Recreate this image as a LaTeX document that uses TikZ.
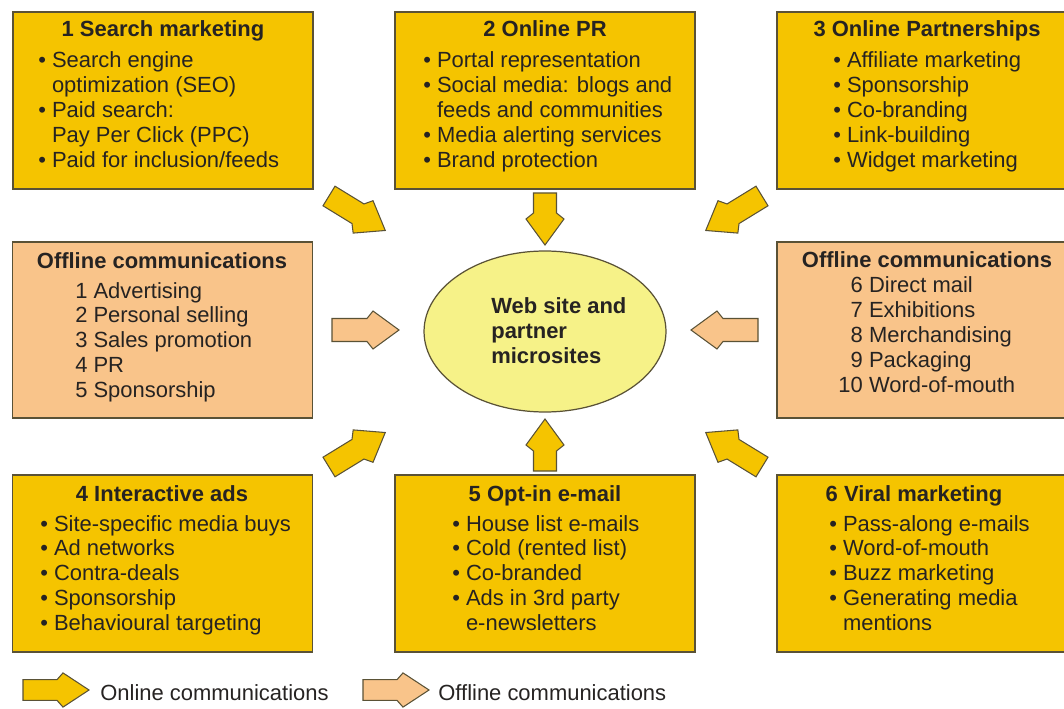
\documentclass[tikz,border=0pt]{standalone}
\usepackage{fontspec}
\setmainfont{Liberation Sans}
\usetikzlibrary{shapes.geometric}
\definecolor{yel}{HTML}{F5C400}
\definecolor{peach}{HTML}{F9C48A}
\definecolor{ell}{HTML}{F6F288}
\definecolor{bord}{HTML}{5A5236}
\definecolor{ink}{HTML}{262322}
\newcommand{\fsz}{\fontsize{12.5}{14.17}\selectfont}
\tikzset{
  onbox/.style={draw=bord, fill=yel, line width=0.7pt, rectangle, inner sep=0pt, minimum width=6cm, minimum height=3.54cm},
  offbox/.style={draw=bord, fill=peach, line width=0.7pt, rectangle, inner sep=0pt, minimum width=6cm, minimum height=3.52cm},
  ttl/.style={font=\fsz\bfseries, text=ink, inner sep=0pt, anchor=base},
  txt/.style={font=\fsz, text=ink, inner sep=0pt, anchor=base west},
  onarrow/.style={fill=yel, draw=bord, line width=0.6pt, line join=miter},
  offarrow/.style={fill=peach, draw=bord, line width=0.6pt, line join=miter},
  barrow/.pic={
    \path[pic actions] (0,-11.5) -- (#1-32,-11.5) -- (#1-26,-19) -- (#1,0) -- (#1-26,19) -- (#1-32,11.5) -- (0,11.5) -- cycle;
  }
}
\begin{document}
\begin{tikzpicture}[x=0.02cm, y=-0.02cm]
\useasboundingbox (0,0) rectangle (1064,709);
\clip (0,0) rectangle (1064,709);

% boxes
\node[onbox] (b1) at (163,100.5) {};
\node[onbox] (b2) at (545,100.5) {};
\node[onbox] (b3) at (927,100.5) {};
\node[offbox] (offL) at (162.5,330) {};
\node[offbox] (offR) at (927,330) {};
\node[onbox] (b4) at (162.5,563.5) {};
\node[onbox] (b5) at (545,563.5) {};
\node[onbox] (b6) at (927,563.5) {};
\node[draw=bord, fill=ell, line width=0.7pt, ellipse, inner sep=0pt, minimum width=4.84cm, minimum height=3.22cm] (web) at (545,331.5) {};

% titles
\node[ttl] (h1) at (163,37) {1 Search marketing};
\node[ttl] (h2) at (545,37) {2 Online PR};
\node[ttl] (h3) at (927,37) {3 Online Partnerships};
\node[ttl] (hL) at (162,269) {Offline communications};
\node[ttl] (hR) at (927,268) {Offline communications};
\node[ttl] (h4) at (162,501) {4 Interactive ads};
\node[ttl] (h5) at (545,501) {5 Opt-in e-mail};
\node[ttl] (h6) at (914,501) {6 Viral marketing};

% contents
\node[txt] (t1) at (38,68) {\begin{tabular}[t]{@{}l@{\hspace{3.4pt}}l@{}}
•&Search engine\\ &optimization (SEO)\\ •&Paid search:\\ &Pay Per Click (PPC)\\ •&Paid for inclusion/feeds\end{tabular}};
\node[txt] (t2) at (423,68) {\begin{tabular}[t]{@{}l@{\hspace{3.4pt}}l@{}}
•&Portal representation\\ •&Social media: blogs and\\ &feeds and communities\\ •&Media alerting services\\ •&Brand protection\end{tabular}};
\node[txt] (t3) at (833,68) {\begin{tabular}[t]{@{}l@{\hspace{3.4pt}}l@{}}
•&Affiliate marketing\\ •&Sponsorship\\ •&Co-branding\\ •&Link-building\\ •&Widget marketing\end{tabular}};
\node[txt] (tL) at (75,298) {\begin{tabular}[t]{@{}l@{\hspace{3.4pt}}l@{}}
1&Advertising\\ 2&Personal selling\\ 3&Sales promotion\\ 4&PR\\ 5&Sponsorship\end{tabular}};
\node[txt] (tR) at (838,293) {\begin{tabular}[t]{@{}r@{\hspace{3.6pt}}l@{}}
6&Direct mail\\ 7&Exhibitions\\ 8&Merchandising\\ 9&Packaging\\ 10&Word-of-mouth\end{tabular}};
\node[txt] (t4) at (40,531) {\begin{tabular}[t]{@{}l@{\hspace{3.4pt}}l@{}}
•&Site-specific media buys\\ •&Ad networks\\ •&Contra-deals\\ •&Sponsorship\\ •&Behavioural targeting\end{tabular}};
\node[txt] (t5) at (452,531) {\begin{tabular}[t]{@{}l@{\hspace{3.4pt}}l@{}}
•&House list e-mails\\ •&Cold (rented list)\\ •&Co-branded\\ •&Ads in 3rd party\\ &e-newsletters\end{tabular}};
\node[txt] (t6) at (829,531) {\begin{tabular}[t]{@{}l@{\hspace{3.4pt}}l@{}}
•&Pass-along e-mails\\ •&Word-of-mouth\\ •&Buzz marketing\\ •&Generating media\\ &mentions\end{tabular}};
\node[txt, font=\fsz\bfseries] (tw) at (491,314) {\begin{tabular}[t]{@{}l@{}}Web site and\\ partner\\ microsites\end{tabular}};

% block arrows
\pic[onarrow, rotate=-31.5] at (329,196) {barrow=66};
\pic[onarrow, rotate=211.5] at (762,196) {barrow=66};
\pic[onarrow, rotate=31.5] at (329,467) {barrow=66};
\pic[onarrow, rotate=148.5] at (762,467) {barrow=66};
\pic[onarrow, rotate=-90] at (545,193) {barrow=52};
\pic[onarrow, rotate=90] at (545,471) {barrow=52};
\pic[offarrow] at (332,330) {barrow=67};
\pic[offarrow, rotate=180] at (758,330) {barrow=67};

% legend
\pic[onarrow, yscale=0.9] at (23,690) {barrow=66};
\node[txt] (l1) at (100,700) {Online communications};
\pic[offarrow, yscale=0.9] at (363,690) {barrow=66};
\node[txt] (l2) at (438,700) {Offline communications};
\end{tikzpicture}
\end{document}
